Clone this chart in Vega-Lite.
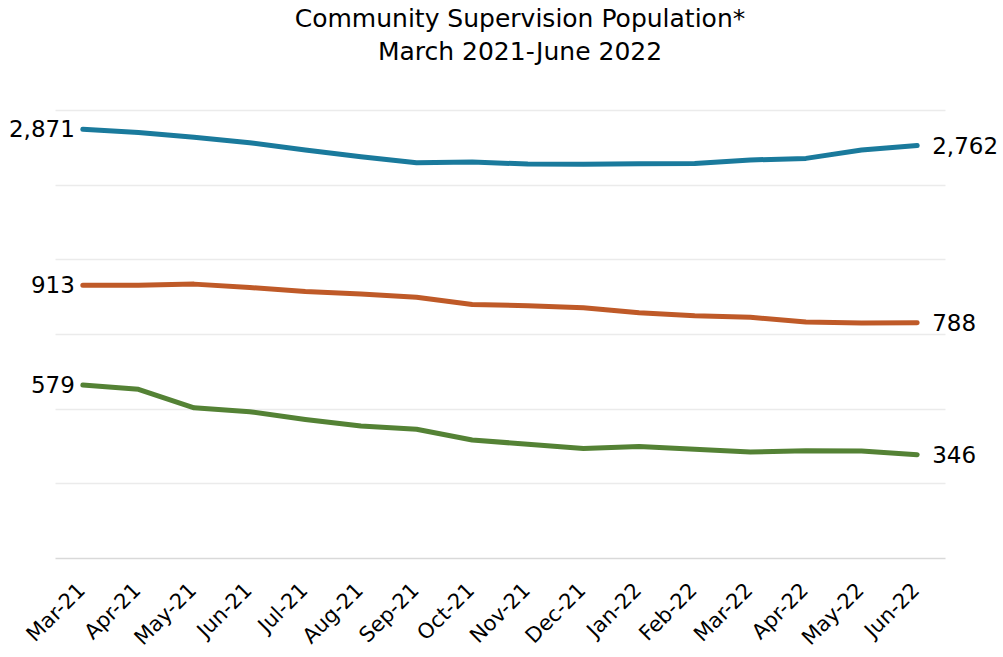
{
  "$schema": "https://vega.github.io/schema/vega-lite/v6.json",
  "autosize": {"type": "none"},
  "width": 890,
  "height": 448,
  "padding": {"left": 55, "top": 110, "right": 58, "bottom": 99},
  "background": "white",
  "config": {
    "view": {"stroke": null},
    "font": "DejaVu Sans"
  },
  "title": {
    "text": ["Community Supervision Population*", "March 2021-June 2022"],
    "fontSize": 25,
    "fontWeight": "normal",
    "color": "#000000",
    "lineHeight": 33,
    "anchor": "middle",
    "dx": 20,
    "offset": 45
  },
  "data": {
    "values": [
      {"month": "Mar-21", "series": "A", "axis": "right", "value": 2871},
      {"month": "Apr-21", "series": "A", "axis": "right", "value": 2850},
      {"month": "May-21", "series": "A", "axis": "right", "value": 2817},
      {"month": "Jun-21", "series": "A", "axis": "right", "value": 2781},
      {"month": "Jul-21", "series": "A", "axis": "right", "value": 2732},
      {"month": "Aug-21", "series": "A", "axis": "right", "value": 2687},
      {"month": "Sep-21", "series": "A", "axis": "right", "value": 2647},
      {"month": "Oct-21", "series": "A", "axis": "right", "value": 2652},
      {"month": "Nov-21", "series": "A", "axis": "right", "value": 2638},
      {"month": "Dec-21", "series": "A", "axis": "right", "value": 2636},
      {"month": "Jan-22", "series": "A", "axis": "right", "value": 2640},
      {"month": "Feb-22", "series": "A", "axis": "right", "value": 2642},
      {"month": "Mar-22", "series": "A", "axis": "right", "value": 2665},
      {"month": "Apr-22", "series": "A", "axis": "right", "value": 2676},
      {"month": "May-22", "series": "A", "axis": "right", "value": 2732},
      {"month": "Jun-22", "series": "A", "axis": "right", "value": 2762},
      {"month": "Mar-21", "series": "B", "axis": "left", "value": 913},
      {"month": "Apr-21", "series": "B", "axis": "left", "value": 913},
      {"month": "May-21", "series": "B", "axis": "left", "value": 917},
      {"month": "Jun-21", "series": "B", "axis": "left", "value": 906},
      {"month": "Jul-21", "series": "B", "axis": "left", "value": 892},
      {"month": "Aug-21", "series": "B", "axis": "left", "value": 884},
      {"month": "Sep-21", "series": "B", "axis": "left", "value": 873},
      {"month": "Oct-21", "series": "B", "axis": "left", "value": 849},
      {"month": "Nov-21", "series": "B", "axis": "left", "value": 845},
      {"month": "Dec-21", "series": "B", "axis": "left", "value": 838},
      {"month": "Jan-22", "series": "B", "axis": "left", "value": 821},
      {"month": "Feb-22", "series": "B", "axis": "left", "value": 811},
      {"month": "Mar-22", "series": "B", "axis": "left", "value": 806},
      {"month": "Apr-22", "series": "B", "axis": "left", "value": 790},
      {"month": "May-22", "series": "B", "axis": "left", "value": 787},
      {"month": "Jun-22", "series": "B", "axis": "left", "value": 788},
      {"month": "Mar-21", "series": "C", "axis": "left", "value": 579},
      {"month": "Apr-21", "series": "C", "axis": "left", "value": 565},
      {"month": "May-21", "series": "C", "axis": "left", "value": 503},
      {"month": "Jun-21", "series": "C", "axis": "left", "value": 490},
      {"month": "Jul-21", "series": "C", "axis": "left", "value": 464},
      {"month": "Aug-21", "series": "C", "axis": "left", "value": 442},
      {"month": "Sep-21", "series": "C", "axis": "left", "value": 431},
      {"month": "Oct-21", "series": "C", "axis": "left", "value": 395},
      {"month": "Nov-21", "series": "C", "axis": "left", "value": 381},
      {"month": "Dec-21", "series": "C", "axis": "left", "value": 367},
      {"month": "Jan-22", "series": "C", "axis": "left", "value": 373},
      {"month": "Feb-22", "series": "C", "axis": "left", "value": 364},
      {"month": "Mar-22", "series": "C", "axis": "left", "value": 355},
      {"month": "Apr-22", "series": "C", "axis": "left", "value": 359},
      {"month": "May-22", "series": "C", "axis": "left", "value": 358},
      {"month": "Jun-22", "series": "C", "axis": "left", "value": 346}
    ]
  },
  "encoding": {
    "x": {
      "field": "month",
      "type": "ordinal",
      "sort": ["Mar-21", "Apr-21", "May-21", "Jun-21", "Jul-21", "Aug-21", "Sep-21", "Oct-21", "Nov-21", "Dec-21", "Jan-22", "Feb-22", "Mar-22", "Apr-22", "May-22", "Jun-22"],
      "scale": {"type": "point", "padding": 0.5},
      "axis": {
        "title": null,
        "labelAngle": -45,
        "labelAlign": "right",
        "labelBaseline": "top",
        "labelPadding": 21,
        "labelOffset": -9,
        "labelFontSize": 21,
        "labelColor": "#000000",
        "ticks": false,
        "grid": false,
        "domainColor": "#d9d9d9",
        "domainWidth": 1.5
      }
    }
  },
  "layer": [
    {
      "transform": [{"filter": "datum.axis === 'left'"}],
      "encoding": {
        "y": {
          "field": "value",
          "type": "quantitative",
          "scale": {"domain": [0, 1500], "nice": false, "zero": true},
          "axis": {
            "title": null,
            "labels": false,
            "ticks": false,
            "domain": false,
            "grid": true,
            "gridColor": "#ebebeb",
            "gridWidth": 1.5,
            "values": [250, 500, 750, 1000, 1250, 1500]
          }
        }
      },
      "layer": [
        {
          "mark": {"type": "line", "strokeWidth": 5, "strokeCap": "round", "strokeJoin": "round"},
          "encoding": {
            "color": {
              "field": "series",
              "type": "nominal",
              "scale": {"domain": ["A", "B", "C"], "range": ["#1a7a9c", "#bf5a28", "#548235"]},
              "legend": null
            }
          }
        },
        {
          "transform": [{"filter": "datum.month === 'Mar-21'"}],
          "mark": {"type": "text", "align": "right", "baseline": "middle", "dx": -8, "dy": 1, "fontSize": 23, "color": "#000000"},
          "encoding": {"text": {"field": "value", "type": "quantitative", "format": ","}}
        },
        {
          "transform": [{"filter": "datum.month === 'Jun-22'"}],
          "mark": {"type": "text", "align": "left", "baseline": "middle", "dx": 15, "dy": 1, "fontSize": 23, "color": "#000000"},
          "encoding": {"text": {"field": "value", "type": "quantitative", "format": ","}}
        }
      ]
    },
    {
      "transform": [{"filter": "datum.axis === 'right'"}],
      "encoding": {
        "y": {
          "field": "value",
          "type": "quantitative",
          "scale": {"domain": [0, 3000], "nice": false, "zero": true},
          "axis": null
        }
      },
      "layer": [
        {
          "mark": {"type": "line", "strokeWidth": 5, "strokeCap": "round", "strokeJoin": "round", "color": "#1a7a9c"},
          "encoding": {}
        },
        {
          "transform": [{"filter": "datum.month === 'Mar-21'"}],
          "mark": {"type": "text", "align": "right", "baseline": "middle", "dx": -8, "dy": 1, "fontSize": 23, "color": "#000000"},
          "encoding": {"text": {"field": "value", "type": "quantitative", "format": ","}}
        },
        {
          "transform": [{"filter": "datum.month === 'Jun-22'"}],
          "mark": {"type": "text", "align": "left", "baseline": "middle", "dx": 15, "dy": 1, "fontSize": 23, "color": "#000000"},
          "encoding": {"text": {"field": "value", "type": "quantitative", "format": ","}}
        }
      ]
    }
  ],
  "resolve": {"scale": {"y": "independent"}}
}
